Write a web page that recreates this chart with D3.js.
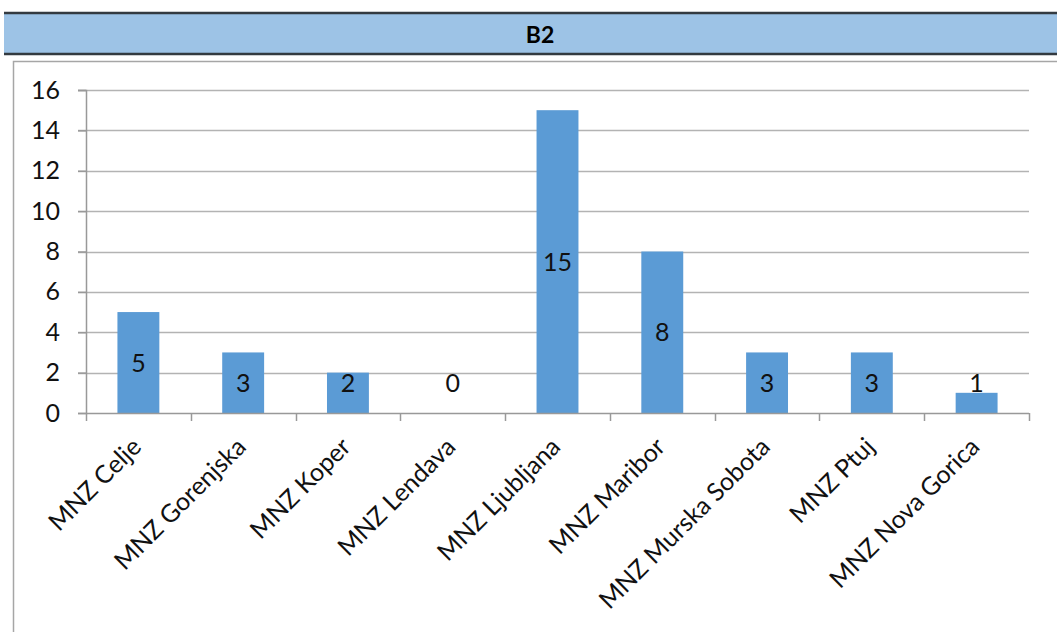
<!DOCTYPE html>
<html>
<head>
<meta charset="utf-8">
<script src="https://cdn.jsdelivr.net/npm/d3@7"></script>
<style>
  html, body { margin: 0; padding: 0; background: #fff; }
  svg { display: block; font-family: Lato, "Open Sans", sans-serif; }
</style>
</head>
<body>
<svg id="chart" width="1057" height="632"></svg>
<script>
const title = "B2";
const categories = ["MNZ Celje", "MNZ Gorenjska", "MNZ Koper", "MNZ Lendava", "MNZ Ljubljana", "MNZ Maribor", "MNZ Murska Sobota", "MNZ Ptuj", "MNZ Nova Gorica"];
const values = [5, 3, 2, 0, 15, 8, 3, 3, 1];
const yTicks = [0, 2, 4, 6, 8, 10, 12, 14, 16];

(function () {
const svg = d3.select("#chart");

// Title bar
svg.append("rect").attr("x", 4).attr("y", 13).attr("width", 1060).attr("height", 41)
  .attr("fill", "#9DC3E6");
svg.append("line").attr("x1", 4).attr("x2", 1057).attr("y1", 13).attr("y2", 13)
  .attr("stroke", "#333a40").attr("stroke-width", 2.5);
svg.append("line").attr("x1", 4).attr("x2", 1057).attr("y1", 54).attr("y2", 54)
  .attr("stroke", "#333a40").attr("stroke-width", 2.5);
svg.append("text").attr("x", 540).attr("y", 35).attr("dy", "0.36em")
  .attr("text-anchor", "middle").attr("font-weight", "bold").attr("font-size", 23)
  .attr("fill", "#000").text(title);

// Chart frame
svg.append("path").attr("d", "M13.5,640 V61.5 H1070")
  .attr("fill", "none").attr("stroke", "#A6A6A6").attr("stroke-width", 1.5);

const pLeft = 86, pRight = 1029, pTop = 90, pBottom = 413;
const xb = d3.scaleBand().domain(categories).range([pLeft, pRight]);
const y = d3.scaleLinear().domain([0, 16]).range([pBottom, pTop]);

// Gridlines
svg.append("g").selectAll("line").data(yTicks.filter(d => d > 0)).join("line")
  .attr("x1", pLeft - 8).attr("x2", pRight)
  .attr("y1", d => Math.round(y(d)) + 0.5).attr("y2", d => Math.round(y(d)) + 0.5)
  .attr("stroke", "#B3B3B3").attr("stroke-width", 1.5);

// Y axis
const yAxis = svg.append("g").attr("transform", `translate(${pLeft},0)`)
  .call(d3.axisLeft(y).tickValues(yTicks).tickSize(8).tickPadding(18));
yAxis.select(".domain").attr("stroke", "#999").attr("stroke-width", 1.5);
yAxis.selectAll(".tick line").attr("stroke", "#999").attr("stroke-width", 1.5);
yAxis.selectAll(".tick text").attr("font-size", 25).attr("fill", "#111")
  .attr("font-family", "Lato, 'Open Sans', sans-serif");

// Bars
svg.append("g").selectAll("rect").data(values).join("rect")
  .attr("x", (d, i) => xb(categories[i]) + xb.bandwidth() * 0.3)
  .attr("width", xb.bandwidth() * 0.4)
  .attr("y", d => y(d))
  .attr("height", d => y(0) - y(d))
  .attr("fill", "#5B9BD5");

// X axis
const xAxisG = svg.append("g").attr("transform", `translate(0,${pBottom})`);
xAxisG.append("line").attr("x1", pLeft).attr("x2", pRight).attr("y1", 0.5).attr("y2", 0.5)
  .attr("stroke", "#999").attr("stroke-width", 1.5);
const bounds = categories.map(c => xb(c)).concat([pRight]);
xAxisG.selectAll("line.tk").data(bounds).join("line").attr("class", "tk")
  .attr("x1", d => Math.round(d) + 0.5).attr("x2", d => Math.round(d) + 0.5)
  .attr("y1", 0).attr("y2", 8).attr("stroke", "#999").attr("stroke-width", 1.5);

// Category labels
svg.append("g").selectAll("text").data(categories).join("text")
  .attr("transform", d => `translate(${xb(d) + xb.bandwidth() / 2 - 2},${pBottom + 29}) rotate(-45)`)
  .attr("text-anchor", "end").attr("dy", "0.36em")
  .attr("font-size", 25).attr("fill", "#111").text(d => d);

// Data labels
svg.append("g").selectAll("text").data(values).join("text")
  .attr("x", (d, i) => xb(categories[i]) + xb.bandwidth() / 2)
  .attr("y", d => Math.min((y(d) + y(0)) / 2, y(0) - 30))
  .attr("dy", "0.36em").attr("text-anchor", "middle")
  .attr("font-size", 25).attr("fill", "#111").text(d => d);
})();
</script>
</body>
</html>
